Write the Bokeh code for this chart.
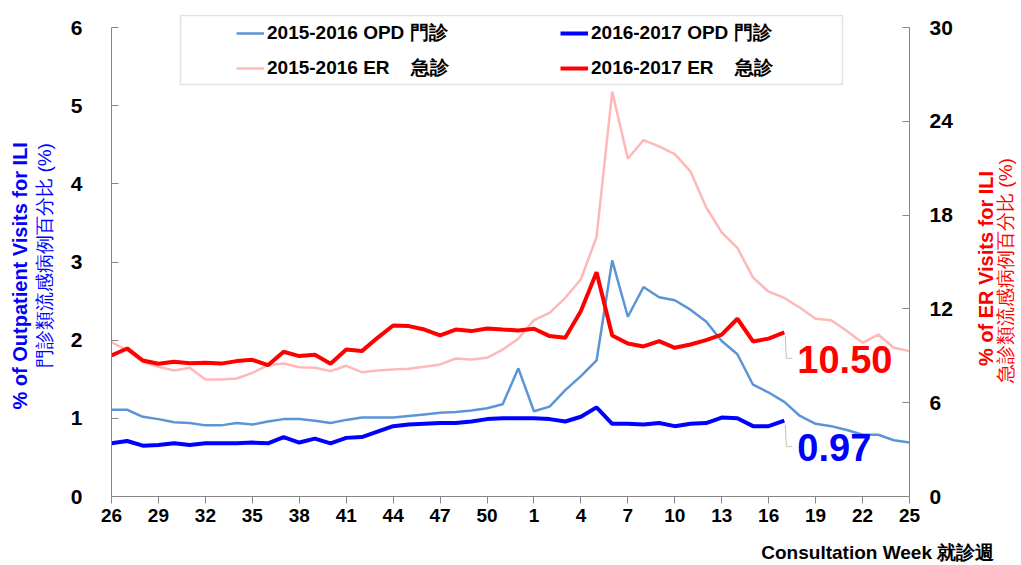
import numpy as np
from bokeh.plotting import figure
from bokeh.layouts import row, column
from bokeh.models import (LinearAxis, Range1d, FixedTicker, Legend, LegendItem,
                          BoxAnnotation, Title)
from bokeh.embed import file_html
from bokeh.resources import INLINE
from bokeh.core.properties import value

# ---- data ----
weeks = list(range(26, 53)) + list(range(1, 26))

opd_1516 = [1.11, 1.11, 1.02, 0.99, 0.95, 0.94, 0.91, 0.91, 0.94, 0.92, 0.96, 0.99, 0.99,
            0.97, 0.94, 0.98, 1.01, 1.01, 1.01, 1.03, 1.05, 1.07, 1.08, 1.10, 1.13, 1.18,
            1.64, 1.09, 1.15, 1.36, 1.54, 1.74, 3.02, 2.30, 2.68, 2.55, 2.51, 2.39, 2.24,
            1.99, 1.82, 1.43, 1.33, 1.21, 1.03, 0.93, 0.90, 0.85, 0.79, 0.79, 0.72, 0.69]

opd_1617 = [0.68, 0.71, 0.65, 0.66, 0.68, 0.66, 0.68, 0.68, 0.68, 0.69, 0.68, 0.76, 0.69,
            0.74, 0.68, 0.75, 0.76, 0.83, 0.90, 0.92, 0.93, 0.94, 0.94, 0.96, 0.99, 1.00,
            1.00, 1.00, 0.99, 0.96, 1.02, 1.14, 0.93, 0.93, 0.92, 0.94, 0.90, 0.93, 0.94,
            1.01, 1.00, 0.90, 0.90, 0.97]

er_1516 = [9.87, 9.34, 8.62, 8.30, 8.06, 8.23, 7.49, 7.49, 7.55, 7.91, 8.40, 8.51, 8.27,
           8.23, 8.02, 8.36, 7.95, 8.06, 8.12, 8.17, 8.30, 8.45, 8.83, 8.77, 8.87, 9.40,
           10.09, 11.28, 11.75, 12.71, 13.90, 16.6, 25.9, 21.6, 22.8, 22.4, 21.9, 20.8,
           18.5, 16.9, 15.9, 14.0, 13.1, 12.7, 12.07, 11.37, 11.28, 10.58, 9.83, 10.36,
           9.51, 9.30]

er_1617 = [9.02, 9.47, 8.70, 8.49, 8.62, 8.53, 8.55, 8.50, 8.66, 8.74, 8.40, 9.26, 8.98,
           9.06, 8.49, 9.40, 9.30, 10.15, 10.94, 10.90, 10.68, 10.30, 10.68, 10.58, 10.75,
           10.68, 10.62, 10.73, 10.26, 10.15, 11.86, 14.35, 10.30, 9.79, 9.60, 9.94, 9.51,
           9.72, 10.00, 10.36, 11.37, 9.92, 10.10, 10.50]

series_labels = ["2015-2016 OPD 門診", "2016-2017 OPD 門診",
                 "2015-2016 ER    急診", "2016-2017 ER    急診"]
right_titles = ["% of ER Visits for ILI", "急診類流感病例百分比 (%)"]
x_title = "Consultation Week  就診週"

left_ticks = [0, 1, 2, 3, 4, 5, 6]
right_ticks = [0, 6, 12, 18, 24, 30]
left_max, right_max = 6, 30

FONT = "Liberation Sans"
AX = "#868686"
C_LB, C_B, C_PK, C_R = "#5B95D6", "#0000FF", "#FFB8B8", "#FF0000"


def blank(fig):
    try:
        fig.title = None
    except Exception:
        fig.title.visible = False
    fig.axis.visible = False
    fig.xgrid.visible = False
    fig.ygrid.visible = False
    fig.outline_line_color = None
    fig.background_fill_color = "white"
    fig.border_fill_color = "white"


# ---- main figure ----
FW = 798
AXH = 469          # height of the axis part
TOP = 13           # extra frame room above the axes (for the legend box)
FH = AXH + TOP
BL, BT, BR, BB = 111, 14, 45, 36
x = np.arange(len(weeks))
xmax = len(weeks) - 1

p = figure(frame_width=FW, frame_height=FH, output_backend="svg", toolbar_location=None,
           x_range=Range1d(0, xmax), y_range=Range1d(0, left_max * FH / AXH),
           min_border_left=BL, min_border_right=BR, min_border_top=BT, min_border_bottom=BB)
p.extra_y_ranges = {"er": Range1d(0, right_max * FH / AXH)}
p.outline_line_color = None
p.xgrid.visible = False
p.ygrid.visible = False
p.background_fill_color = "white"
p.border_fill_color = "white"

# x axis
xa = p.xaxis[0]
xa.ticker = FixedTicker(ticks=list(range(0, len(weeks), 3)))
xa.major_label_overrides = {i: str(weeks[i]) for i in range(0, len(weeks), 3)}
xa.major_tick_in = 0
xa.major_tick_out = 7
xa.minor_tick_line_color = None
xa.axis_line_color = AX
xa.major_tick_line_color = AX
xa.major_label_text_font = FONT
xa.major_label_text_font_style = "bold"
xa.major_label_text_font_size = "19px"
xa.major_label_text_color = "black"
xa.major_label_standoff = 5

# left y axis
ya = p.yaxis[0]
ya.ticker = FixedTicker(ticks=left_ticks)
ya.bounds = (0, left_max)
ya.major_tick_in = 7
ya.major_tick_out = 0
ya.minor_tick_line_color = None
ya.axis_line_color = AX
ya.major_tick_line_color = AX
ya.major_label_text_font = FONT
ya.major_label_text_font_style = "bold"
ya.major_label_text_font_size = "21px"
ya.major_label_text_color = "black"
ya.major_label_standoff = 29
ya.axis_label = "門診類流感病例百分比 (%)"
ya.axis_label_text_font = FONT
ya.axis_label_text_font_style = "normal"
ya.axis_label_text_font_size = "19px"
ya.axis_label_text_color = C_B
ya.axis_label_standoff = 13

# right y axis
ra = LinearAxis(y_range_name="er", ticker=FixedTicker(ticks=right_ticks))
ra.bounds = (0, right_max)
ra.major_tick_in = 7
ra.major_tick_out = 0
ra.minor_tick_line_color = None
ra.axis_line_color = AX
ra.major_tick_line_color = AX
ra.major_label_text_font = FONT
ra.major_label_text_font_style = "bold"
ra.major_label_text_font_size = "21px"
ra.major_label_text_color = "black"
ra.major_label_standoff = 20
p.add_layout(ra, "right")

# outer left title
p.add_layout(Title(text="% of Outpatient Visits for ILI", align="left", offset=87, text_font=FONT,
                   text_font_size="20px", text_font_style="bold", text_color=C_B,
                   standoff=0), "left")

# ---- lines ----
r1 = p.line(x, opd_1516, line_color=C_LB, line_width=2.5)
r3 = p.line(x, er_1516, line_color=C_PK, line_width=2.5, y_range_name="er")
r2 = p.line(x[:len(opd_1617)], opd_1617, line_color=C_B, line_width=4)
r4 = p.line(x[:len(er_1617)], er_1617, line_color=C_R, line_width=4, y_range_name="er")

# ---- end-value callouts ----
pxx = xmax / FW
pyl = left_max / AXH
pyr = right_max / AXH
xe = len(er_1617) - 1
ye_r = er_1617[-1]
xo = len(opd_1617) - 1
ye_b = opd_1617[-1]
p.line([xe + pxx, xe + 2 * pxx, xe + 8 * pxx], [ye_r - 4 * pyr, ye_r - 26 * pyr, ye_r - 26 * pyr],
       line_color="#C0C0C0", line_width=1, y_range_name="er")
p.line([xo + pxx, xo + 2 * pxx, xo + 8 * pxx], [ye_b - 4 * pyl, ye_b - 26 * pyl, ye_b - 26 * pyl],
       line_color="#C0C0C0", line_width=1)
p.text(x=[xe], y=[ye_r], text=[f"{ye_r:.2f}"], x_offset=13, y_offset=27,
       text_font=value(FONT), text_font_style="bold", text_font_size="38px",
       text_color=C_R, text_align="left", text_baseline="middle", y_range_name="er")
p.text(x=[xo], y=[ye_b], text=[f"{ye_b:.2f}"], x_offset=13, y_offset=27,
       text_font=value(FONT), text_font_style="bold", text_font_size="38px",
       text_color=C_B, text_align="left", text_baseline="middle")

# ---- legend ----
box = BoxAnnotation(left=69, right=731, top=FH - 1, bottom=FH - 70,
                    left_units="screen", right_units="screen", top_units="screen", bottom_units="screen",
                    fill_color="white", fill_alpha=1, line_color="#A0A0A0", line_width=1.5)
p.add_layout(box)
legend = Legend(items=[LegendItem(label=series_labels[0], renderers=[r1]),
                       LegendItem(label=series_labels[2], renderers=[r3]),
                       LegendItem(label=series_labels[1], renderers=[r2]),
                       LegendItem(label=series_labels[3], renderers=[r4])],
                ncols=2, location=(125, FH - 67), padding=0, spacing=9,
                glyph_width=28, glyph_height=20, label_standoff=3, label_width=284, label_height=20,
                label_text_font=FONT, label_text_font_style="bold", label_text_font_size="19px",
                label_text_color="black", border_line_alpha=0, background_fill_alpha=0)
p.add_layout(legend, "center")

# ---- right-hand titles (bottom-to-top), in a narrow companion canvas ----
W2 = 64
H2 = BT + FH + BB
p2 = figure(frame_width=W2, frame_height=H2, output_backend="svg", toolbar_location=None,
            x_range=Range1d(0, W2), y_range=Range1d(0, H2),
            min_border_left=0, min_border_right=0, min_border_top=0, min_border_bottom=0)
blank(p2)
mid_y = H2 - (BT + FH / 2)
p2.text(x=[30], y=[mid_y + 1], text=[right_titles[0]], angle=np.pi / 2,
        text_font=value(FONT), text_font_style="bold", text_font_size="20px",
        text_color=C_R, text_align="center", text_baseline="middle")
p2.text(x=[50], y=[mid_y - 1], text=[right_titles[1]], angle=np.pi / 2,
        text_font=value(FONT), text_font_style="normal", text_font_size="19px",
        text_color=C_R, text_align="center", text_baseline="middle")

# ---- x-axis title strip under both ----
W3 = BL + FW + BR + W2
H3 = 30
p3 = figure(frame_width=W3, frame_height=H3, output_backend="svg", toolbar_location=None,
            x_range=Range1d(0, W3), y_range=Range1d(0, H3),
            min_border_left=0, min_border_right=0, min_border_top=0, min_border_bottom=0)
blank(p3)
p3.text(x=[999], y=[H3 - 20], text=[x_title],
        text_font=value(FONT), text_font_style="bold", text_font_size="19px",
        text_color="black", text_align="right", text_baseline="middle")

layout = column(row(p, p2, spacing=0), p3, spacing=0)
open("out.html", "w").write(file_html(layout, INLINE))
